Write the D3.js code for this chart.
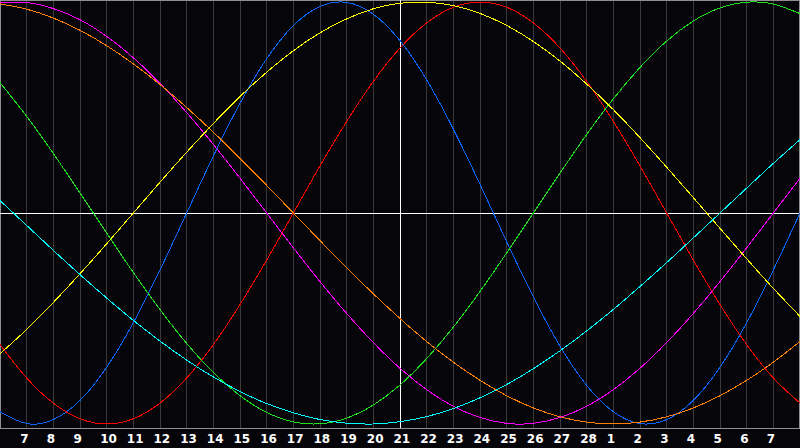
<!DOCTYPE html>
<html>
<head>
<meta charset="utf-8">
<script src="https://cdn.jsdelivr.net/npm/d3@7"></script>
<style>
html,body{margin:0;padding:0;background:#060509;}
svg{display:block;}
</style>
</head>
<body>
<script>
// Day labels for each grid position (index 0..30)
const dayLabels = [6,7,8,9,10,11,12,13,14,15,16,17,18,19,20,21,22,23,24,25,26,27,28,1,2,3,4,5,6,7,8];
// Series values read at each day grid line (index 0..30), range -1..1
const physical = [-0.942,-0.998,-0.979,-0.888,-0.731,-0.520,-0.270,0,0.270,0.520,0.731,0.888,0.979,0.998,0.942,0.817,0.631,0.398,0.136,-0.136,-0.398,-0.631,-0.817,-0.942,-0.998,-0.979,-0.888,-0.731,-0.520,-0.270,0];
const emotional = [-0.624,-0.782,-0.901,-0.975,-1,-0.975,-0.901,-0.782,-0.624,-0.434,-0.223,0,0.223,0.434,0.624,0.782,0.901,0.975,1,0.975,0.901,0.782,0.624,0.434,0.223,0,-0.223,-0.434,-0.624,-0.782,-0.901];
const intellectual = [0.618,0.458,0.282,0.095,-0.095,-0.282,-0.458,-0.618,-0.756,-0.866,-0.945,-0.990,-0.999,-0.972,-0.910,-0.815,-0.690,-0.541,-0.372,-0.189,0,0.189,0.372,0.541,0.690,0.815,0.910,0.972,0.999,0.990,0.945];
const intuitive = [0.997,0.997,0.969,0.916,0.837,0.736,0.614,0.476,0.325,0.165,0,-0.165,-0.325,-0.476,-0.614,-0.736,-0.837,-0.916,-0.969,-0.997,-0.997,-0.969,-0.916,-0.837,-0.736,-0.614,-0.476,-0.325,-0.165,0,0.165];
const aesthetic = [-0.667,-0.552,-0.424,-0.288,-0.146,0,0.146,0.288,0.424,0.552,0.667,0.769,0.854,0.920,0.968,0.994,0.999,0.983,0.946,0.889,0.813,0.720,0.611,0.490,0.357,0.217,0.073,-0.073,-0.217,-0.357,-0.490];
const awareness = [0.991,0.966,0.924,0.866,0.793,0.707,0.609,0.5,0.383,0.259,0.131,0,-0.131,-0.259,-0.383,-0.5,-0.609,-0.707,-0.793,-0.866,-0.924,-0.966,-0.991,-1,-0.991,-0.966,-0.924,-0.866,-0.793,-0.707,-0.609];
const spiritual = [0.059,-0.059,-0.177,-0.292,-0.403,-0.509,-0.607,-0.697,-0.777,-0.846,-0.903,-0.947,-0.979,-0.996,-1.000,-0.989,-0.965,-0.927,-0.876,-0.813,-0.738,-0.653,-0.559,-0.457,-0.348,-0.235,-0.118,0,0.118,0.235,0.348];

const seriesNames = ["physical","emotional","intellectual","intuitive","aesthetic","awareness","spiritual"];
const seriesValues = [physical, emotional, intellectual, intuitive, aesthetic, awareness, spiritual];
const seriesColors = ["#0a64ff","#ff0000","#1ee01e","#ff00ff","#ffff00","#ff8000","#00ffff"];

const W = 800, H = 448;
const plotBottom = 428;

const svg = d3.select("body").append("svg").attr("width", W).attr("height", H)
  .style("background", "#060509");

const x = d3.scaleLinear().domain([0, 30]).range([0, 800]);
const y = d3.scaleLinear().domain([-1, 1]).range([424, 2]);

const idx = d3.range(dayLabels.length);

// grid lines
svg.append("g").selectAll("line").data(idx.filter(i => i > 0 && i < 30 && i !== 15))
  .join("line")
  .attr("x1", i => Math.floor(x(i)) + 0.5).attr("x2", i => Math.floor(x(i)) + 0.5)
  .attr("y1", 0).attr("y2", plotBottom)
  .attr("stroke", "#3a3a3a").attr("stroke-width", 1)
  .attr("shape-rendering", "crispEdges");

// border
svg.append("rect").attr("x", 0.5).attr("y", 0.5).attr("width", 799).attr("height", plotBottom)
  .attr("fill", "none").attr("stroke", "#8f8f8f").attr("shape-rendering", "crispEdges");

// center lines
svg.append("line").attr("x1", 0).attr("x2", 800).attr("y1", 213.5).attr("y2", 213.5)
  .attr("stroke", "#ffffff").attr("shape-rendering", "crispEdges");
svg.append("line").attr("x1", x(15) + 0.5).attr("x2", x(15) + 0.5).attr("y1", 0).attr("y2", plotBottom)
  .attr("stroke", "#ffffff").attr("shape-rendering", "crispEdges");

// curves
const line = d3.line().x((d, i) => x(i)).y(d => y(d)).curve(d3.curveNatural);
svg.append("g").selectAll("path").data(seriesValues).join("path")
  .attr("d", d => line(d))
  .attr("fill", "none")
  .attr("stroke", (d, i) => seriesColors[i])
  .attr("stroke-width", 1)
  .attr("shape-rendering", "crispEdges");

// day labels
svg.append("g").selectAll("text").data(idx.filter(i => i > 0 && i < 30))
  .join("text")
  .attr("x", i => x(i) - 6.5)
  .attr("y", 443)
  .attr("fill", "#ffffff")
  .attr("font-family", "'DejaVu Sans', sans-serif")
  .attr("font-weight", "bold")
  .attr("font-size", 12)
  .attr("text-anchor", "start")
  .text(i => dayLabels[i]);
</script>
</body>
</html>
